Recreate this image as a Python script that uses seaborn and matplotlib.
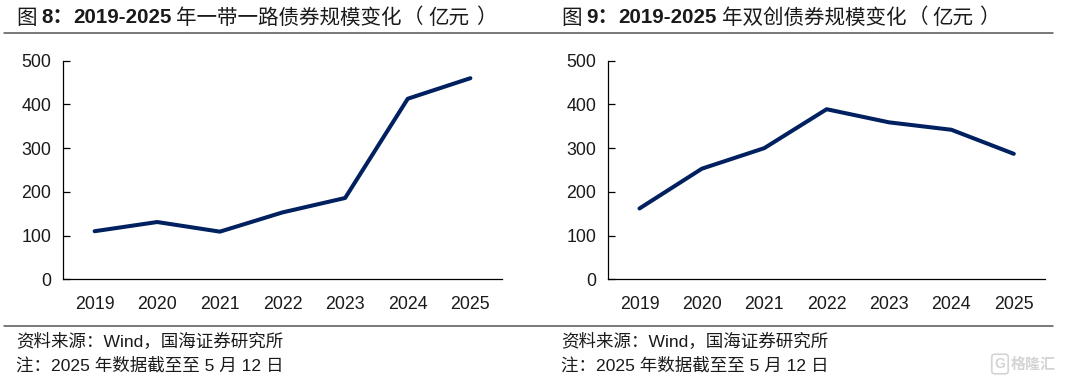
import matplotlib
matplotlib.use('Agg')
import matplotlib.pyplot as plt
from matplotlib.lines import Line2D
import pandas as pd
import seaborn as sns

years = ['2019', '2020', '2021', '2022', '2023', '2024', '2025']
belt_road = [110, 131, 109, 153, 186, 413, 460]
shuangchuang = [162, 253, 300, 389, 359, 342, 287]
y_ticks = [0, 100, 200, 300, 400, 500]

source_text = '资料来源：Wind，国海证券研究所'
note_text = '注：2025 年数据截至至 5 月 12 日'

W, H = 1080, 378
LATIN_CJK = ['Liberation Sans', 'Noto Sans CJK SC']
CJK = 'Noto Sans CJK SC'
INK = '#1a1a1a'

sns.set_theme(style='white')
plt.rcParams['font.family'] = LATIN_CJK

fig = plt.figure(figsize=(W / 100, H / 100), dpi=100, facecolor='white')


def px_text(x, y, s, **kw):
    fig.text(x / W, 1 - y / H, s, va='center', ha='left', color=INK, **kw)


def draw_panel(values, left, right, xoff, num, title_head, head_x, paren_x, unit_x, close_x):
    top, bottom = 60.7, 279.3
    ax = fig.add_axes([left / W, 1 - bottom / H, (right - left) / W, (bottom - top) / H])
    df = pd.DataFrame({'year': years, 'value': values})
    sns.lineplot(data=df, x='year', y='value', ax=ax, color='#002060', linewidth=2.9,
                 sort=False, errorbar=None)
    ax.set_xlim(-0.5, 6.5)
    ax.set_ylim(0, 500)
    ax.set_yticks(y_ticks)
    ax.set_xlabel('')
    ax.set_ylabel('')
    ax.grid(False)
    ax.patch.set_alpha(0)
    sns.despine(ax=ax)
    for side in ['left', 'bottom']:
        ax.spines[side].set_color('black')
        ax.spines[side].set_linewidth(0.9)
    ax.tick_params(axis='y', direction='in', length=5.3, width=0.9, color='black',
                   labelsize=12.8, labelcolor=INK, pad=8.5, left=True)
    ax.tick_params(axis='x', length=0, labelsize=12.8, labelcolor=INK, pad=12)

    # title is mixed weight and widely spaced, so it goes in pieces
    px_text(xoff + 16, 17.5, '图', fontsize=14.8, family=CJK)
    px_text(xoff + 41, 17.5, num, fontsize=14.8, fontweight='bold', family=LATIN_CJK)
    px_text(xoff + 73, 17.5, '2019-2025', fontsize=14.8, fontweight='bold', family='Liberation Sans')
    px_text(head_x, 17.5, title_head, fontsize=14.8, family=CJK)
    px_text(paren_x, 17.5, '（', fontsize=14.8, family=CJK)
    px_text(unit_x, 17.5, '亿元', fontsize=14.8, family=CJK)
    px_text(close_x, 17.5, '）', fontsize=14.8, family=CJK)

    px_text(xoff + 16, 341, source_text, fontsize=12.6)
    px_text(xoff + 16, 365, note_text, fontsize=12.6)


draw_panel(belt_road, 63.3, 501.7, 0, '8：', '年一带一路债券规模变化', 176, 403, 428, 476)
draw_panel(shuangchuang, 608.3, 1045, 545, '9：', '年双创债券规模变化', 722, 908, 932, 979)

for y in [33, 325.5]:
    fig.add_artist(Line2D([4 / W, 1052.5 / W], [1 - y / H, 1 - y / H], color='#555555', linewidth=1.1))

# watermark, bottom right
fig.text(1056 / W, 1 - 364 / H, '格隆汇', fontsize=10.8, color='#d4d4d4', ha='right', va='center',
         family=CJK, fontweight='bold')
fig.text(1000 / W, 1 - 364 / H, 'G', fontsize=10, color='#d4d4d4', ha='center', va='center',
         family='Liberation Sans', fontweight='bold',
         bbox=dict(boxstyle='round,pad=0.2', facecolor='white', edgecolor='#d4d4d4', linewidth=1.2))

fig.savefig('out.png', dpi=100)
